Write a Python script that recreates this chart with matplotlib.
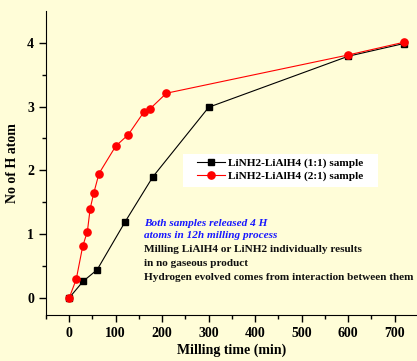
import matplotlib
matplotlib.use("Agg")
import matplotlib.pyplot as plt
from matplotlib.patches import Rectangle

plt.rcParams['font.family'] = ['Liberation Serif', 'DejaVu Serif']
plt.rcParams['font.weight'] = 'bold'

x1 = [0, 30, 60, 120, 180, 300, 600, 720]
y1 = [0, 0.26, 0.44, 1.19, 1.90, 2.99, 3.79, 3.99]
x2 = [0, 15, 29, 39, 45, 53, 64, 100, 127, 161, 173, 209, 600, 720]
y2 = [0, 0.29, 0.81, 1.04, 1.40, 1.65, 1.95, 2.38, 2.56, 2.92, 2.96, 3.21, 3.81, 4.01]
label1 = "LiNH2-LiAlH4 (1:1) sample"
label2 = "LiNH2-LiAlH4 (2:1) sample"
xticks = [0, 100, 200, 300, 400, 500, 600, 700]
yticks = [0, 1, 2, 3, 4]

W, H = 417, 361
bg = '#FFFDD8'
fig = plt.figure(figsize=(4.17, 3.61), dpi=100, facecolor=bg)
ax = fig.add_axes([46/W, 46/H, 371/W, 304/H])
ax.set_facecolor(bg)

ax.plot(x1, y1, '-s', color='black', lw=0.8, ms=4.2, label=label1, zorder=3)
ax.plot(x2, y2, '-o', color='red', lw=0.8, ms=5.2, label=label2, zorder=3)

ax.set_xlim(-50, 748)
ax.set_ylim(-0.27, 4.5)
ax.set_xticks(xticks)
ax.set_yticks(yticks)
ax.set_xticks([-50, 50, 150, 250, 350, 450, 550, 650], minor=True)
ax.set_yticks([0.5, 1.5, 2.5, 3.5], minor=True)
for s in ['top', 'right']:
    ax.spines[s].set_visible(False)
ax.tick_params(which='major', length=5, width=1, labelsize=10)
ax.tick_params(which='minor', length=3, width=1)
for lab in ax.get_xticklabels() + ax.get_yticklabels():
    lab.set_fontweight('bold')

ax.set_xlabel('Milling time (min)', fontsize=10, fontweight='bold', labelpad=3)
ax.set_ylabel('No of H atom', fontsize=10, fontweight='bold', labelpad=6)

def fy(py):
    return (H - py) / H

# white legend box
ax.add_patch(Rectangle((183/W, fy(187)), (378-183)/W, (187-154)/H,
                       transform=fig.transFigure, facecolor='white',
                       edgecolor='none', zorder=4, clip_on=False))

leg = ax.legend(loc='upper left', bbox_to_anchor=(197/W, fy(158)),
                bbox_transform=fig.transFigure,
                frameon=False, prop={'weight': 'bold', 'size': 8.1}, handlelength=2.5,
                borderpad=0, borderaxespad=0, labelspacing=0.25, handletextpad=0.3)
leg.set_zorder(6)

tx = 144
fs = 8.1
fig.text(tx/W, fy(223), 'Both samples released 4 H', color='#1818FF', fontsize=fs,
         fontweight='bold', style='italic', va='center')
fig.text(tx/W, fy(236), 'atoms in 12h milling process', color='#1818FF', fontsize=fs,
         fontweight='bold', style='italic', va='center')
fig.text(tx/W, fy(250), 'Milling LiAlH4 or LiNH2 individually results', color='#111111',
         fontsize=fs, fontweight='bold', va='center')
fig.text(tx/W, fy(264), 'in no gaseous product', color='#111111',
         fontsize=fs, fontweight='bold', va='center')
fig.text(tx/W, fy(278), 'Hydrogen evolved comes from interaction between them', color='#111111',
         fontsize=fs, fontweight='bold', va='center')

fig.savefig('out.png', dpi=100, facecolor=bg)
